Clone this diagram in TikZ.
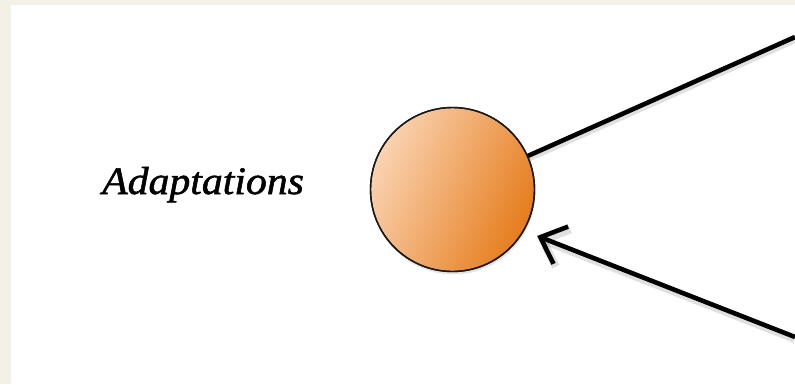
\documentclass[tikz,border=0pt]{standalone}
\usepackage{fontspec}
\setmainfont{Liberation Serif}
\usetikzlibrary{arrows.meta,shadows}
\definecolor{bgbeige}{HTML}{F3F0E8}
\definecolor{orlight}{HTML}{FAD3B2}
\definecolor{ormid}{HTML}{F09A4A}
\definecolor{ordark}{HTML}{E57C1C}
\tikzset{
  conn/.style={line width=4.6pt, black,
    preaction={draw, black, opacity=0.12, line width=8pt, transform canvas={yshift=-2pt}}},
  arr/.style={conn, -{Straight Barb[length=22pt,width=40pt]}},
  ball/.style={circle, minimum size=164pt, inner sep=0pt, draw=black!90, line width=1.4pt,
    left color=orlight, middle color=ormid, right color=ordark, shading angle=65,
    drop shadow={shadow xshift=1pt, shadow yshift=-3pt, opacity=0.2}},
  lbl/.style={inner sep=0pt, anchor=base west,
    font=\fontsize{39}{42}\selectfont\itshape\addfontfeature{FakeBold=1.3}}
}
\begin{document}
\begin{tikzpicture}[x=1pt,y=-1pt]
  \useasboundingbox (0,0) rectangle (795,384);
  \fill[bgbeige] (0,0) rectangle (795,384);
  \fill[white] (11,5) rectangle (795,384);
  \node[lbl, xscale=1.07] (adapt) at (102,194) {Adaptations};
  \node[ball] (c) at (452.5,189.5) {};
  \coordinate (tr) at (795,37);
  \coordinate (br) at (795,337);
  \draw[conn] (c) -- (tr);
  \draw[arr, shorten >=14pt] (br) -- (c.-30);
  \draw[black!90, line width=1.4pt] (c) circle (82pt);
\end{tikzpicture}
\end{document}
